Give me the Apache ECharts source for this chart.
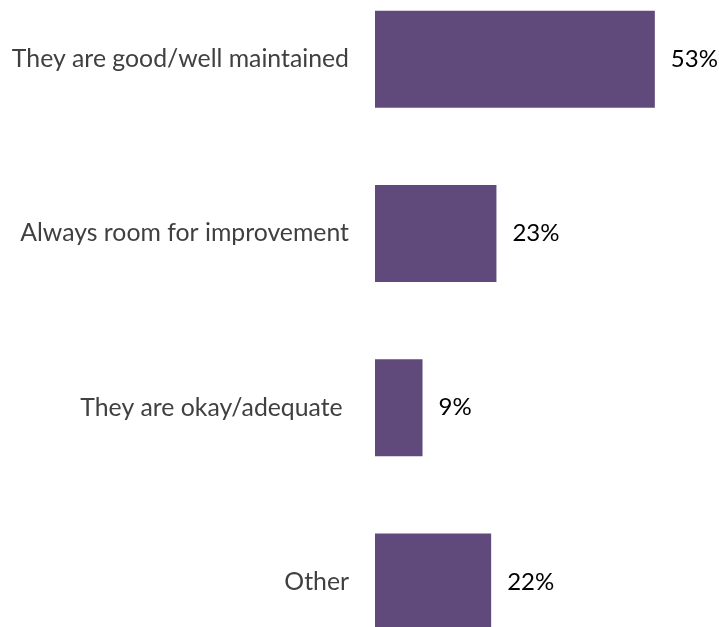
<!DOCTYPE html>
<html>
<head>
<meta charset="utf-8">
<script src="https://cdn.jsdelivr.net/npm/echarts@6/dist/echarts.min.js"></script>
<style>
  html, body { margin: 0; padding: 0; background: #ffffff; }
  #chart { width: 719px; height: 627px; }
</style>
</head>
<body>
<div id="chart"></div>
<script>
// Survey responses, shown as percentage of respondents
const categories = [
  'They are good/well maintained',
  'Always room for improvement',
  'They are okay/adequate ',
  'Other'
];
const shares = [53, 23, 9, 22];

const FONT = 'Lato';

const chart = echarts.init(document.getElementById('chart'));
chart.setOption({
  animation: false,
  backgroundColor: '#ffffff',
  grid: {
    left: 375, top: -28, width: 528, height: 697,
    containLabel: false,
    outerBoundsMode: 'none'
  },
  xAxis: {
    type: 'value',
    min: 0,
    max: 100,
    show: false
  },
  yAxis: {
    type: 'category',
    data: categories,
    inverse: true,
    axisLine: { show: false },
    axisTick: { show: false },
    axisLabel: {
      margin: 26,
      color: '#404040',
      fontFamily: FONT,
      fontSize: 24.8
    }
  },
  series: [{
    type: 'bar',
    data: shares,
    barWidth: 97,
    itemStyle: { color: '#604A7B' },
    label: {
      show: true,
      position: 'right',
      distance: 16,
      formatter: '{c}%',
      color: '#000000',
      fontFamily: FONT,
      fontSize: 24
    }
  }]
});
</script>
</body>
</html>
